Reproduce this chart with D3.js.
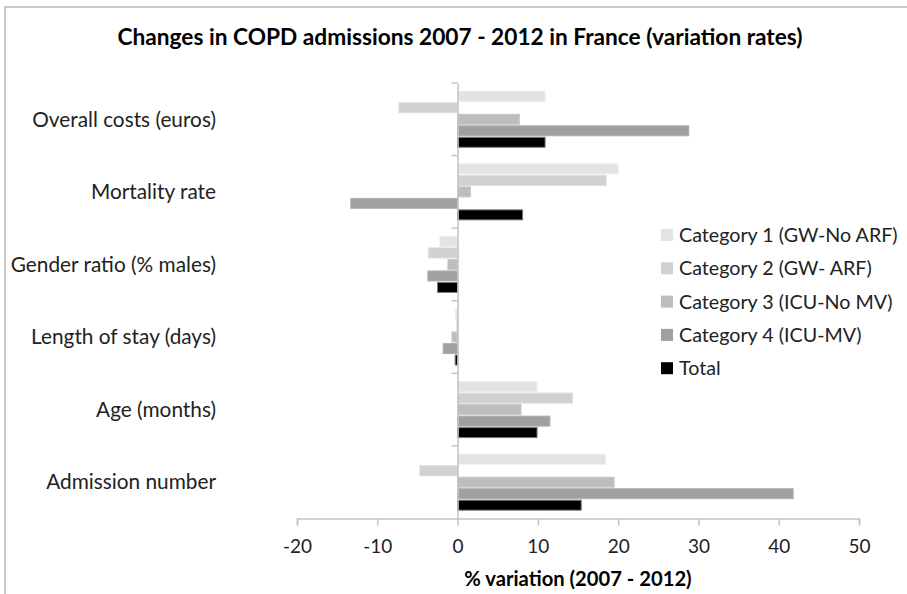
<!DOCTYPE html>
<html>
<head>
<meta charset="utf-8">
<script src="https://cdn.jsdelivr.net/npm/d3@7"></script>
<style>
  body { margin: 0; background: #fff; }
  svg { display: block; font-family: Lato, "Open Sans", sans-serif; }
</style>
</head>
<body>
<svg width="907" height="594"></svg>
<script>
// measures, top to bottom as drawn
const measures = ["Overall costs (euros)", "Mortality rate", "Gender ratio (% males)",
  "Length of stay (days)", "Age (months)", "Admission number"];
const seriesNames = ["Category 1 (GW-No ARF)", "Category 2 (GW- ARF)", "Category 3 (ICU-No MV)",
  "Category 4 (ICU-MV)", "Total"];

// % variation per measure (same order as measures)
const cat1 = [10.9, 20.0, -2.2, -0.25, 9.9, 18.4];
const cat2 = [-7.3, 18.5, -3.6, -0.1, 14.3, -4.7];
const cat3 = [7.7, 1.6, -1.2, -0.7, 7.9, 19.5];
const cat4 = [28.8, -13.3, -3.7, -1.8, 11.5, 41.8];
const total = [10.9, 8.1, -2.5, -0.3, 9.9, 15.4];
const xTicks = [-20, -10, 0, 10, 20, 30, 40, 50];

const series = [cat1, cat2, cat3, cat4, total];
const fills = ["#e3e3e3", "#d1d1d1", "#bdbdbd", "#a0a0a0", "#000000"];
const strokes = ["#ececec", "#dcdcdc", "#c9c9c9", "#b0b0b0", "#7a7a7a"];

const svg = d3.select("svg");

// outer chart border (only left/top visible in the frame)
svg.append("rect")
  .attr("x", 5).attr("y", 7)
  .attr("width", 1000).attr("height", 1000)
  .attr("fill", "none")
  .attr("stroke", "#c8c8c8")
  .attr("stroke-width", 2);

const x = d3.scaleLinear().domain([-20, 50]).range([297, 859]);
const y = d3.scaleBand().domain(measures).range([83, 518.5]);
const yInner = d3.scaleBand()
  .domain(d3.range(series.length))
  .range([8.3, y.bandwidth() - 8.3])
  .paddingInner(0.13);

// bars
const groups = svg.append("g").selectAll("g")
  .data(measures)
  .join("g")
  .attr("transform", d => `translate(0,${y(d)})`);

groups.selectAll("rect")
  .data((m, i) => series.map((s, k) => ({ k, v: s[i] })))
  .join("rect")
  .attr("x", d => x(Math.min(0, d.v)))
  .attr("width", d => Math.abs(x(d.v) - x(0)))
  .attr("y", d => yInner(d.k))
  .attr("height", yInner.bandwidth())
  .attr("fill", d => fills[d.k])
  .attr("stroke", d => strokes[d.k])
  .attr("stroke-width", 1);

// x axis
const xAxis = svg.append("g")
  .attr("transform", "translate(0,518.5)")
  .call(d3.axisBottom(x).tickValues(xTicks).tickSize(7).tickPadding(14).tickFormat(d => String(d)));
xAxis.select(".domain").attr("stroke", "#c4c4c4").attr("stroke-width", 1.5);
xAxis.selectAll(".tick line").attr("stroke", "#c4c4c4").attr("stroke-width", 1.5);
xAxis.selectAll(".tick text")
  .attr("font-size", 19)
  .attr("font-family", "Lato, sans-serif")
  .attr("fill", "#222");

// y axis at zero
const yAxis = svg.append("g")
  .attr("transform", `translate(${x(0)},0)`)
  .call(d3.axisLeft(y).tickSize(0).tickFormat(""));
yAxis.select(".domain").attr("stroke", "#c4c4c4").attr("stroke-width", 1.5);

// category separators on the y axis
svg.append("g").selectAll("line")
  .data(measures)
  .join("line")
  .attr("x1", x(0) - 6).attr("x2", x(0))
  .attr("y1", d => y(d)).attr("y2", d => y(d))
  .attr("stroke", "#c4c4c4")
  .attr("stroke-width", 1.5);

// category labels
svg.append("g").selectAll("text")
  .data(measures)
  .join("text")
  .attr("x", 216)
  .attr("y", d => y(d) + y.bandwidth() / 2)
  .attr("dy", "0.35em")
  .attr("text-anchor", "end")
  .attr("font-size", 20.8)
  .attr("fill", "#222")
  .text(d => d);

// title
svg.append("text")
  .attr("x", 460).attr("y", 45)
  .attr("text-anchor", "middle")
  .attr("font-size", 22.7)
  .attr("font-weight", "bold")
  .attr("fill", "#000")
  .text("Changes in COPD admissions 2007 - 2012 in France (variation rates)");

// axis title
svg.append("text")
  .attr("x", 578).attr("y", 586)
  .attr("text-anchor", "middle")
  .attr("font-size", 20.2)
  .attr("font-weight", "bold")
  .attr("fill", "#000")
  .text("% variation (2007 - 2012)");

// legend
const legend = svg.append("g").selectAll("g")
  .data(seriesNames)
  .join("g")
  .attr("transform", (d, i) => `translate(661,${235 + i * 33.3})`);
legend.append("rect")
  .attr("x", 0).attr("y", -6)
  .attr("width", 12).attr("height", 12)
  .attr("fill", (d, i) => fills[i]);
legend.append("text")
  .attr("x", 18).attr("dy", "0.35em")
  .attr("font-size", 19.7)
  .attr("fill", "#222")
  .text(d => d);
</script>
</body>
</html>
